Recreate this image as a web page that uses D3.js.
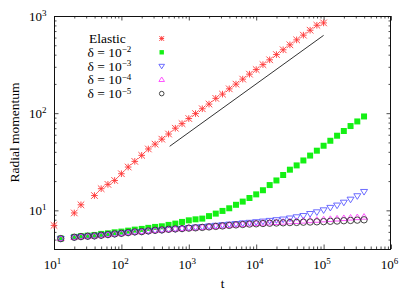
<!DOCTYPE html>
<html><head><meta charset="utf-8">
<script src="https://cdn.jsdelivr.net/npm/d3@7/dist/d3.min.js"></script>
<style>body{margin:0;background:#fff}svg{display:block}text{font-family:"Liberation Serif","Times New Roman",serif;fill:#000}</style>
</head><body>
<svg id="c" width="415" height="291"></svg>
<script>
const tElastic = [10, 20, 25.1, 39.8, 50.1, 63.1, 79.4, 100, 126, 158, 200, 251, 316, 398, 501, 631, 794, 1000, 1259, 1585, 1995, 2512, 3162, 3981, 5012, 6310, 7943, 10000, 12589, 15849, 19953, 25119, 31623, 39811, 50119, 63096, 79433, 100000];
const elastic = [7.0, 9.4, 11.4, 14.2, 16.7, 18.5, 20.3, 23.8, 27.9, 31.9, 36.8, 42.8, 48, 54, 61, 70, 78, 88, 99, 111, 124, 142, 157, 178, 199, 224, 252, 281, 316, 354, 401, 449, 505, 568, 635, 714, 803, 849];
const tDelta = [12.6, 20, 25.1, 31.6, 39.8, 50.1, 63.1, 79.4, 100, 126, 158, 200, 251, 316, 398, 501, 631, 794, 1000, 1259, 1585, 1995, 2512, 3162, 3981, 5012, 6310, 7943, 10000, 12589, 15849, 19953, 25119, 31623, 39811, 50119, 63096, 79433, 100000, 125893, 158489, 199526, 251189, 316228, 398107];
const delta2 = [5.12, 5.33, 5.41, 5.49, 5.58, 5.72, 5.80, 5.94, 6.04, 6.18, 6.33, 6.44, 6.60, 6.75, 6.85, 7.08, 7.30, 7.60, 7.89, 8.08, 8.22, 8.72, 9.25, 9.86, 10.5, 11.4, 12.3, 13.4, 14.6, 16.1, 18.2, 20.3, 23.1, 26.2, 29.0, 32.6, 36.6, 41.1, 46.2, 52.0, 58.6, 65.5, 73.7, 82.2, 92.5];
const delta3 = [5.12, 5.28, 5.37, 5.41, 5.46, 5.54, 5.63, 5.72, 5.80, 5.90, 6.00, 6.04, 6.14, 6.23, 6.29, 6.38, 6.44, 6.49, 6.64, 6.72, 6.80, 6.90, 7.00, 7.10, 7.20, 7.30, 7.41, 7.51, 7.62, 7.73, 7.86, 7.99, 8.12, 8.32, 8.56, 8.82, 9.25, 9.63, 10.1, 10.7, 11.3, 12.1, 13.0, 14.1, 15.6];
const delta4 = [5.12, 5.28, 5.37, 5.41, 5.46, 5.54, 5.63, 5.72, 5.80, 5.90, 6.00, 6.04, 6.14, 6.23, 6.29, 6.38, 6.44, 6.49, 6.56, 6.61, 6.67, 6.75, 6.83, 6.91, 7.01, 7.10, 7.18, 7.26, 7.33, 7.39, 7.45, 7.51, 7.57, 7.64, 7.70, 7.77, 7.84, 7.92, 8.00, 8.08, 8.16, 8.25, 8.34, 8.43, 8.52];
const delta5 = [5.12, 5.28, 5.37, 5.41, 5.46, 5.54, 5.63, 5.72, 5.80, 5.90, 6.00, 6.04, 6.14, 6.23, 6.29, 6.38, 6.44, 6.49, 6.56, 6.61, 6.67, 6.75, 6.83, 6.91, 7.00, 7.08, 7.15, 7.22, 7.27, 7.32, 7.37, 7.41, 7.44, 7.48, 7.51, 7.55, 7.58, 7.62, 7.65, 7.71, 7.76, 7.82, 7.87, 7.93, 7.99];
const guideT = [520, 100000];
const guideY = [45.6, 632];
const xTickExp = [1, 2, 3, 4, 5, 6];
const yTickExp = [1, 2, 3];
const legendLabels = [["Elastic", null], ["δ = 10", "−2"], ["δ = 10", "−3"], ["δ = 10", "−4"], ["δ = 10", "−5"]];

const svg = d3.select("#c");
const L = 54, R = 391, T = 16, B = 249;
const x = d3.scaleLog().domain([10, 1e6]).range([L, R]);
const y = d3.scaleLog().domain([4, 1000]).range([B, T]);

const isDecade = v => Math.abs(Math.log10(v) - Math.round(Math.log10(v))) < 1e-9;
const majorX = x.ticks().filter(isDecade);
const minorX = x.ticks().filter(v => !isDecade(v));
const majorY = y.ticks().filter(isDecade);
const minorY = y.ticks().filter(v => !isDecade(v));
function axis(gen, sc, vals, size, tr) {
  const g = svg.append("g").attr("transform", tr)
    .call(gen(sc).tickValues(vals).tickSize(size).tickFormat(""));
  g.select(".domain").remove();
  g.selectAll("line").attr("stroke", "#222").attr("stroke-width", 0.8);
}
axis(d3.axisBottom, x, majorX, -4.5, `translate(0,${B})`);
axis(d3.axisBottom, x, minorX, -2.5, `translate(0,${B})`);
axis(d3.axisTop, x, majorX, -4.5, `translate(0,${T})`);
axis(d3.axisTop, x, minorX, -2.5, `translate(0,${T})`);
axis(d3.axisLeft, y, majorY, -4.5, `translate(${L},0)`);
axis(d3.axisLeft, y, minorY, -2.5, `translate(${L},0)`);
axis(d3.axisRight, y, majorY, -4.5, `translate(${R},0)`);
axis(d3.axisRight, y, minorY, -2.5, `translate(${R},0)`);

svg.append("rect").attr("x", L + 0.5).attr("y", T + 0.5).attr("width", R - L - 1).attr("height", B - T)
  .attr("fill", "none").attr("stroke", "#111").attr("stroke-width", 1);

xTickExp.forEach(e => {
  const t = svg.append("text").attr("x", x(Math.pow(10, e)) - 1.5).attr("y", 269)
    .attr("text-anchor", "middle").attr("font-size", 13);
  t.append("tspan").text("10");
  t.append("tspan").attr("dy", -5).attr("font-size", 9).text(e);
});
yTickExp.forEach(e => {
  const t = svg.append("text").attr("x", 46.5).attr("y", y(Math.pow(10, e)) + 4.5)
    .attr("text-anchor", "end").attr("font-size", 13);
  t.append("tspan").text("10");
  t.append("tspan").attr("dy", -5).attr("font-size", 9).text(e);
});
svg.append("text").attr("x", (L + R) / 2).attr("y", 288).attr("text-anchor", "middle").attr("font-size", 13).text("t");
svg.append("text").attr("transform", `translate(18.5,${(T + B) / 2}) rotate(-90)`).attr("text-anchor", "middle")
  .attr("font-size", 13.5).text("Radial momentum");

svg.append("line").attr("x1", x(guideT[0])).attr("y1", y(guideY[0])).attr("x2", x(guideT[1])).attr("y2", y(guideY[1]))
  .attr("stroke", "#333").attr("stroke-width", 1);

const sym = {
  star: s => `M${-s},0H${s}M0,${-s}V${s}M${-s},${-s}L${s},${s}M${-s},${s}L${s},${-s}`,
  square: s => `M${-s},${-s}H${s}V${s}H${-s}Z`,
  tdown: s => `M${-s},${-s * 0.6}H${s}L0,${s * 1.0}Z`,
  tup: s => `M${-s},${s * 0.6}H${s}L0,${-s * 1.0}Z`,
  circle: s => `M${s},0A${s},${s} 0 1,1 ${-s},0A${s},${s} 0 1,1 ${s},0Z`
};
const series = [
  { t: tElastic, v: elastic, shape: "star", size: 3.3, fill: "none", stroke: "#ff3535", sw: 0.9, ls: 2.4 },
  { t: tDelta, v: delta2, shape: "square", size: 3, fill: "#14f014", stroke: "none", sw: 0, ls: 2.2 },
  { t: tDelta, v: delta3, shape: "tdown", size: 3.5, fill: "none", stroke: "#5a5aff", sw: 0.9, ls: 2.8 },
  { t: tDelta, v: delta4, shape: "tup", size: 3.5, fill: "none", stroke: "#ff40ff", sw: 0.9, ls: 2.8 },
  { t: tDelta, v: delta5, shape: "circle", size: 3.2, fill: "none", stroke: "#333", sw: 0.9, ls: 2.3 }
];
series.forEach(s => {
  svg.append("g").selectAll("path").data(s.t.map((t, i) => [t, s.v[i]])).join("path")
    .attr("transform", d => `translate(${x(d[0])},${y(d[1])})`)
    .attr("d", sym[s.shape](s.size)).attr("fill", s.fill).attr("stroke", s.stroke).attr("stroke-width", s.sw);
});

const rowY = [38.5, 52.3, 66, 79.8, 93.6];
legendLabels.forEach((lab, i) => {
  const t = svg.append("text").attr("x", i === 0 ? 89 : 87.5).attr("y", rowY[i] + 4.5).attr("font-size", 13.5);
  t.append("tspan").text(lab[0]);
  if (lab[1]) t.append("tspan").attr("dy", -4.5).attr("font-size", 9).text(lab[1]);
  const s = series[i];
  svg.append("path").attr("transform", `translate(161.7,${rowY[i]})`).attr("d", sym[s.shape](s.ls))
    .attr("fill", s.fill).attr("stroke", s.stroke).attr("stroke-width", s.sw);
});
</script>
</body></html>
